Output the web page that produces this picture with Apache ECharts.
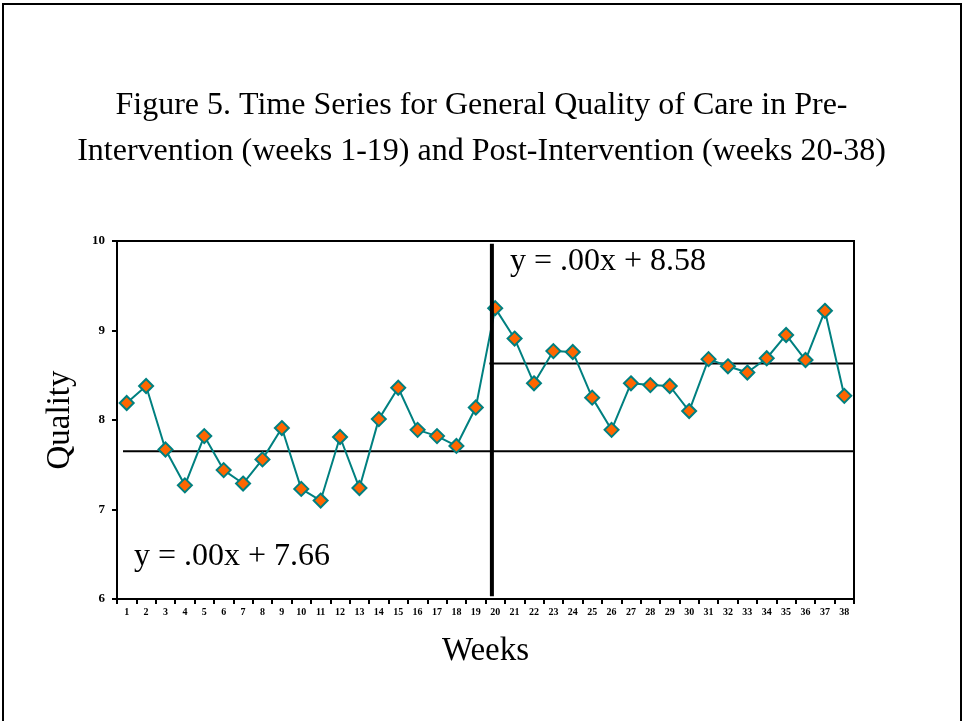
<!DOCTYPE html>
<html>
<head>
<meta charset="utf-8">
<script src="https://cdn.jsdelivr.net/npm/echarts@6/dist/echarts.min.js"></script>
<style>
html,body{margin:0;padding:0;background:#fff;}
#chart{width:963px;height:721px;}
</style>
</head>
<body>
<div id="chart"></div>
<script>
var weeks = ['1','2','3','4','5','6','7','8','9','10','11','12','13','14','15','16','17','18','19','20','21','22','23','24','25','26','27','28','29','30','31','32','33','34','35','36','37','38'];
var quality = [8.19,8.38,7.67,7.27,7.82,7.44,7.29,7.56,7.91,7.23,7.10,7.81,7.24,8.01,8.36,7.89,7.82,7.71,8.14,
               9.25,8.91,8.41,8.77,8.76,8.25,7.89,8.41,8.39,8.38,8.10,8.68,8.60,8.53,8.69,8.95,8.67,9.22,8.27];
var yTicks = [6,7,8,9,10];
// reference lines (in a 0..38 value space matching the category bands)
var preMeanLine = [[0.31, 7.65],[38, 7.65]];
var postMeanLine = [[19.2, 8.63],[38, 8.63]];
var interventionLine = [[19.33, 6.03],[19.33, 9.97]];
var titleLines = ['Figure 5. Time Series for General Quality of Care in Pre-', 'Intervention (weeks 1-19) and Post-Intervention (weeks 20-38)'];
var preEq = 'y = .00x + 7.66';
var postEq = 'y = .00x + 8.58';

var serif = '"Liberation Serif", "Times New Roman", serif';
var chart = echarts.init(document.getElementById('chart'), null, {renderer:'canvas'});
chart.setOption({
  animation: false,
  backgroundColor: '#fff',
  title: {
    text: titleLines.join('\n'),
    left: 'center',
    top: 78,
    textStyle: {fontFamily: serif, fontSize: 32, fontWeight: 'normal', color: '#000', lineHeight: 46}
  },
  grid: {left: 117, top: 241, right: 109, bottom: 122, show: true, borderColor: '#000', borderWidth: 2, backgroundColor: 'transparent'},
  xAxis: [{
    type: 'category',
    data: weeks,
    boundaryGap: true,
    name: 'Weeks',
    nameLocation: 'middle',
    nameGap: 36,
    nameTextStyle: {fontFamily: serif, fontSize: 33, color: '#000'},
    axisLine: {lineStyle: {color: '#000', width: 2}},
    axisTick: {show: true, length: 5, alignWithLabel: false, lineStyle: {color: '#000', width: 2}},
    axisLabel: {interval: 0, fontFamily: serif, fontSize: 10, fontWeight: 'bold', color: '#000', margin: 8},
    splitLine: {show: false}
  }, {
    type: 'value', min: 0, max: 38, show: false
  }],
  yAxis: {
    type: 'value',
    min: yTicks[0], max: yTicks[yTicks.length-1], interval: 1,
    name: 'Quality',
    nameLocation: 'middle',
    nameRotate: 90,
    nameGap: 40,
    nameTextStyle: {fontFamily: serif, fontSize: 33, color: '#000'},
    axisLine: {show: true, lineStyle: {color: '#000', width: 2}},
    axisTick: {show: true, length: 5, lineStyle: {color: '#000', width: 2}},
    axisLabel: {fontFamily: serif, fontSize: 13, fontWeight: 'bold', color: '#000', margin: 12},
    splitLine: {show: false}
  },
  series: [{
    type: 'line',
    xAxisIndex: 1,
    data: preMeanLine,
    symbol: 'none',
    lineStyle: {color: '#000', width: 2},
    z: 1
  }, {
    type: 'line',
    xAxisIndex: 1,
    data: postMeanLine,
    symbol: 'none',
    lineStyle: {color: '#000', width: 2},
    z: 1
  }, {
    type: 'line',
    xAxisIndex: 0,
    data: quality,
    symbol: 'diamond',
    symbolSize: 14,
    lineStyle: {color: '#008080', width: 2},
    itemStyle: {color: '#FF6600', borderColor: '#008080', borderWidth: 2},
    z: 2
  }, {
    type: 'line',
    xAxisIndex: 1,
    data: interventionLine,
    symbol: 'none',
    lineStyle: {color: '#000', width: 4},
    z: 3
  }],
  graphic: [{
    type: 'rect',
    shape: {x: 3, y: 4, width: 958, height: 760},
    style: {fill: 'none', stroke: '#000', lineWidth: 2},
    silent: true
  }, {
    type: 'text', left: 134, top: 541,
    style: {text: preEq, font: '32px ' + serif, fill: '#000'}
  }, {
    type: 'text', left: 510, top: 246,
    style: {text: postEq, font: '32px ' + serif, fill: '#000'}
  }]
});
</script>
</body>
</html>
